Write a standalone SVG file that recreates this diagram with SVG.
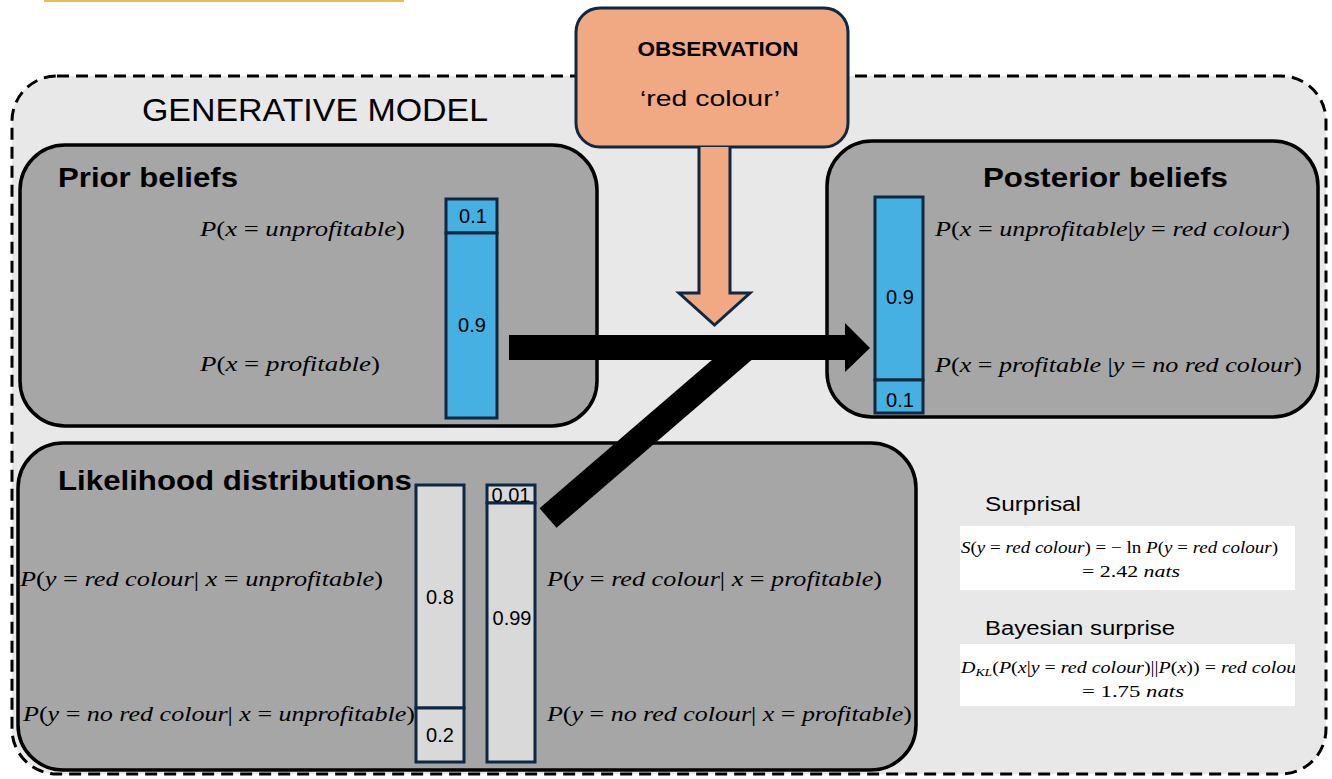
<svg xmlns="http://www.w3.org/2000/svg" width="1332" height="779" viewBox="0 0 1332 779">
<defs>
<style>
.box{fill:#A6A6A6;stroke:#000;stroke-width:3.5}
.bar{fill:#45B0E1;stroke:#0E2841;stroke-width:3}
.lbar{fill:#D9D9D9;stroke:#0E2841;stroke-width:3}
.title{font-family:"Liberation Sans",Arial,sans-serif;font-weight:bold;font-size:28px;fill:#000}
.num{font-family:"Liberation Sans",Arial,sans-serif;font-size:20px;fill:#000;text-anchor:middle}
.math{font-family:"Liberation Serif","DejaVu Serif",serif;font-style:italic;font-size:20px;fill:#000}
.tex{font-family:"Liberation Serif","DejaVu Serif",serif;font-style:italic;font-size:16px;fill:#000}
.u{font-style:normal}
.sans{font-family:"Liberation Sans",Arial,sans-serif;fill:#000}
</style>
<clipPath id="dklclip"><rect x="960" y="644" width="335" height="62"/></clipPath>
</defs>
<rect x="44" y="0" width="360" height="2" fill="#E8C04F"/>
<g id="generative-model">
<rect x="12" y="76" width="1314" height="698" rx="45" ry="45" fill="#E8E8E8" stroke="#000" stroke-width="3" stroke-dasharray="12 7"/>
<text class="sans" x="142" y="121" font-size="32" textLength="346" lengthAdjust="spacingAndGlyphs">GENERATIVE MODEL</text>
</g>
<g id="prior">
<rect class="box" x="20" y="145" width="577" height="281" rx="45" ry="45"/>
<text class="title" x="58" y="187" textLength="180" lengthAdjust="spacingAndGlyphs">Prior beliefs</text>
<rect class="bar" x="446" y="199" width="51" height="34"/>
<rect class="bar" x="446" y="233" width="51" height="185"/>
<text class="num" x="473" y="223">0.1</text>
<text class="num" x="472" y="332">0.9</text>
<text class="math" x="200" y="236" textLength="205" lengthAdjust="spacingAndGlyphs">P<tspan class="u">(</tspan>x <tspan class="u">=</tspan> unprofitable<tspan class="u">)</tspan></text>
<text class="math" x="200" y="371" textLength="180" lengthAdjust="spacingAndGlyphs">P<tspan class="u">(</tspan>x <tspan class="u">=</tspan> profitable<tspan class="u">)</tspan></text>
</g>
<g id="posterior">
<rect class="box" x="827" y="141" width="491" height="276" rx="45" ry="45"/>
<text class="title" x="983" y="187" textLength="245" lengthAdjust="spacingAndGlyphs">Posterior beliefs</text>
<rect class="bar" x="875" y="197" width="48" height="183"/>
<rect class="bar" x="875" y="380" width="48" height="33"/>
<text class="num" x="900" y="304">0.9</text>
<text class="num" x="900" y="407">0.1</text>
<text class="math" x="935" y="236" textLength="355" lengthAdjust="spacingAndGlyphs">P<tspan class="u">(</tspan>x <tspan class="u">=</tspan> unprofitable<tspan class="u">|</tspan>y <tspan class="u">=</tspan> red colour<tspan class="u">)</tspan></text>
<text class="math" x="935" y="372" textLength="367" lengthAdjust="spacingAndGlyphs">P<tspan class="u">(</tspan>x <tspan class="u">=</tspan> profitable <tspan class="u">|</tspan>y <tspan class="u">=</tspan> no red colour<tspan class="u">)</tspan></text>
</g>
<g id="likelihood">
<rect class="box" x="18" y="443" width="898" height="327" rx="45" ry="45"/>
<text class="title" x="58" y="490" textLength="354" lengthAdjust="spacingAndGlyphs">Likelihood distributions</text>
<rect class="lbar" x="416" y="485" width="48" height="223"/>
<rect class="lbar" x="416" y="708" width="48" height="54"/>
<text class="num" x="440" y="604">0.8</text>
<text class="num" x="440" y="742">0.2</text>
<rect class="lbar" x="487" y="485" width="48" height="18"/>
<rect class="lbar" x="487" y="503" width="48" height="259"/>
<text class="num" x="511" y="502" font-size="18">0.01</text>
<text class="num" x="512" y="625">0.99</text>
<text class="math" x="20" y="586" textLength="363" lengthAdjust="spacingAndGlyphs">P<tspan class="u">(</tspan>y <tspan class="u">=</tspan> red colour<tspan class="u">|</tspan> x <tspan class="u">=</tspan> unprofitable<tspan class="u">)</tspan></text>
<text class="math" x="23" y="721" textLength="392" lengthAdjust="spacingAndGlyphs">P<tspan class="u">(</tspan>y <tspan class="u">=</tspan> no red colour<tspan class="u">|</tspan> x <tspan class="u">=</tspan> unprofitable<tspan class="u">)</tspan></text>
<text class="math" x="547" y="586" textLength="335" lengthAdjust="spacingAndGlyphs">P<tspan class="u">(</tspan>y <tspan class="u">=</tspan> red colour<tspan class="u">|</tspan> x <tspan class="u">=</tspan> profitable<tspan class="u">)</tspan></text>
<text class="math" x="547" y="721" textLength="365" lengthAdjust="spacingAndGlyphs">P<tspan class="u">(</tspan>y <tspan class="u">=</tspan> no red colour<tspan class="u">|</tspan> x <tspan class="u">=</tspan> profitable<tspan class="u">)</tspan></text>
</g>
<g id="observation">
<rect x="576" y="8" width="272" height="139" rx="24" ry="24" fill="#F1A983" stroke="#0E2841" stroke-width="3"/>
<text class="sans" x="718" y="56" font-size="20" font-weight="bold" text-anchor="middle" textLength="161" lengthAdjust="spacingAndGlyphs">OBSERVATION</text>
<text class="sans" x="710" y="106" font-size="22" text-anchor="middle" textLength="140" lengthAdjust="spacingAndGlyphs">‘red colour’</text>
</g>
<g id="surprisal">
<text class="sans" x="985" y="511" font-size="20" textLength="96" lengthAdjust="spacingAndGlyphs">Surprisal</text>
<rect x="960" y="526" width="335" height="64" fill="#FFFFFF"/>
<text class="tex" x="961" y="553" textLength="317" lengthAdjust="spacingAndGlyphs">S<tspan class="u">(</tspan>y <tspan class="u">=</tspan> red colour<tspan class="u">) = − ln </tspan>P<tspan class="u">(</tspan>y <tspan class="u">=</tspan> red colour<tspan class="u">)</tspan></text>
<text class="tex" x="1082" y="577" textLength="98" lengthAdjust="spacingAndGlyphs"><tspan class="u">= 2.42 </tspan>nats</text>
</g>
<g id="bayesian-surprise">
<text class="sans" x="985" y="635" font-size="20" textLength="190" lengthAdjust="spacingAndGlyphs">Bayesian surprise</text>
<rect x="960" y="644" width="335" height="62" fill="#FFFFFF"/>
<g clip-path="url(#dklclip)">
<text class="tex" x="961" y="673" textLength="343" lengthAdjust="spacingAndGlyphs">D<tspan font-size="11" dy="3">KL</tspan><tspan class="u" dy="-3">(</tspan>P<tspan class="u">(</tspan>x<tspan class="u">|</tspan>y <tspan class="u">=</tspan> red colour<tspan class="u">)||</tspan>P<tspan class="u">(</tspan>x<tspan class="u">)) = </tspan>red colour</text>
</g>
<text class="tex" x="1082" y="697" textLength="102" lengthAdjust="spacingAndGlyphs"><tspan class="u">= 1.75 </tspan>nats</text>
</g>
<g id="connectors">
<path d="M699,147 L699,293 L679,293 L714.5,325 L750,293 L730,293 L730,147" fill="#F1A983" stroke="#0E2841" stroke-width="3" stroke-linejoin="miter"/>
<polygon points="509,335 845,335 845,323 870,348 845,372 845,360 509,360" fill="#000"/>
<line x1="548" y1="518" x2="748" y2="346" stroke="#000" stroke-width="26"/>
</g>
</svg>
